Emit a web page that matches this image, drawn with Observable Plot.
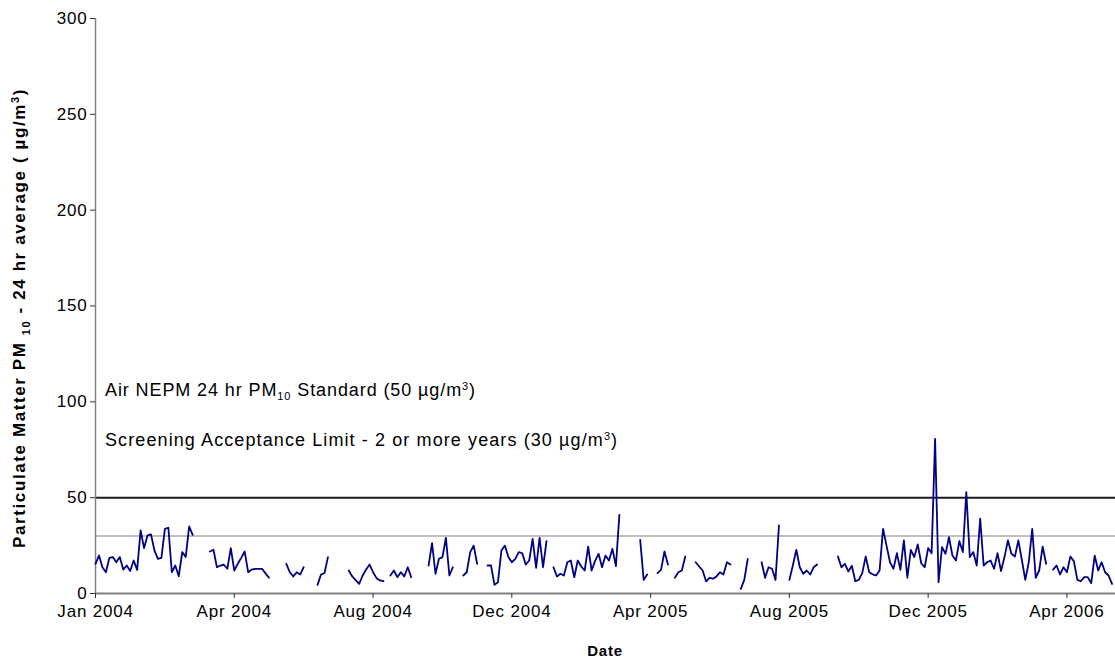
<!DOCTYPE html>
<html><head><meta charset="utf-8">
<script src="https://cdn.jsdelivr.net/npm/d3@7"></script>
<script src="https://cdn.jsdelivr.net/npm/@observablehq/plot@0.6"></script>
<style>body{margin:0;background:#fff;} svg{display:block;}</style>
</head><body><div id="chart"></div>
<script>
// ---- data ----
const seriesStart = "2004-01-01";   // first sample
const samplingDays = 3;             // one sample every 3 days (null = no sample)
const pm10 = [
  15.5,19.8,13.7,11.1,18.6,19,16.3,19,12.5,14.6,11.7,17.2,12.3,32.9,23.7,30.3,30.8,22.4,18.1,18.6,33.7,34.3,11.1,14.6,9,21.6,19,35,30.6,
  null,null,null,null,
  21.9,22.8,13.7,14.6,15,12.9,23.7,12,15.5,18.6,21.9,11.1,12.5,12.9,12.9,12.9,10.5,8.2,
  null,null,null,null,
  15.5,11.1,8.9,11.1,9.9,13.7,
  null,null,null,
  4.5,9.9,10.6,19,
  null,null,null,null,null,
  12,8.9,7,5,9.4,12.5,15.1,11.1,8,6.8,6.4,
  null,
  9.4,12,8.5,11.1,8.9,13.7,8.5,
  null,null,null,null,
  14.6,26.3,10.3,18.1,19,29,9.4,13.7,
  null,null,
  9.4,11.1,21.6,25,15.5,
  null,null,
  14.6,14.6,4.5,5.9,22.4,25,19,16.3,18.1,21.6,21,15.1,17.2,28.5,13.4,29,13.7,27.3,
  null,
  13.7,8.9,10.3,9.4,16.3,17.2,8.5,17.2,14.1,12,24.5,12,17,20.7,13.7,19.8,17.2,23.3,14.3,41,
  null,null,null,null,null,
  28,7.1,9.9,
  null,null,
  10.6,12.3,21.9,15.1,
  null,
  8.2,11.1,12,19.3,
  null,null,
  16.3,14.1,12,6.3,8.2,7.7,8.9,11.1,9.9,16.3,15.1,
  null,null,
  2.4,7.1,18.1,
  null,null,null,
  16.3,8.2,13.7,12.9,7.1,35.5,
  null,null,
  7.1,14.6,22.8,13.7,10.3,12,9.9,13.7,15.1,
  null,null,null,null,null,
  19.3,13.7,15.5,11.5,14.5,6.4,7.1,10.6,19.3,11.1,10,9.4,12,33.7,25,16.3,12.9,21,12.3,27.7,8.2,22.8,19,25.6,15.8,13.7,23.7,21,80.7,5.9,
  24.2,20.7,29.4,19.8,17.2,27.3,21.6,52.9,19,21.6,14.6,39,14.6,16.3,17.2,12.9,21,11.7,19,27.7,20.7,19.3,27.7,17.6,7.1,16.3,33.7,8.2,12,24.5,15.5,
  null,
  12.5,14.6,9.9,13.7,11.1,19.3,16.9,7.1,6.4,8.5,8.5,5.4,19.8,12,16.3,11.1,9.4,5
];
const xTickDates = ["2004-01-01","2004-04-30","2004-08-28","2004-12-26","2005-04-25","2005-08-23","2005-12-21","2006-04-20"];
const xDomain = ["2004-01-01","2006-06-01"];
const yTicks = [0,50,100,150,200,250,300];
const nepmStandard = 50;
const screeningLimit = 30;
const annotationY = [106, 80];   // value level where each annotation label sits

// ---- build ----
const t0 = new Date(seriesStart + "T00:00:00Z").getTime();
const data = pm10.map((v, i) => ({date: new Date(t0 + i * samplingDays * 864e5), value: v}));
const ticks = xTickDates.map(d => new Date(d + "T00:00:00Z"));
const font = "'Liberation Sans', Arial, sans-serif";

const chart = Plot.plot({
  width: 1115, height: 666,
  marginLeft: 95, marginRight: 0, marginTop: 18, marginBottom: 73,
  style: {fontFamily: font, fontSize: "17px", color: "#000", background: "#fff", letterSpacing: "0.8px"},
  x: {type: "utc", domain: xDomain.map(d => new Date(d + "T00:00:00Z"))},
  y: {domain: [0, 300]},
  marks: [
    Plot.ruleY([screeningLimit], {stroke: "#c0c0c0", strokeWidth: 2}),
    Plot.ruleY([nepmStandard], {stroke: "#1a1a1a", strokeWidth: 2}),
    Plot.ruleY([0], {stroke: "#808080", strokeWidth: 2}),
    Plot.ruleX([new Date(xDomain[0] + "T00:00:00Z")], {stroke: "#808080", strokeWidth: 1.5}),
    Plot.axisY({ticks: yTicks, tickSize: 5, tickPadding: 3, fontSize: 17, label: null, stroke: "#333"}),
    Plot.axisX({ticks: ticks, tickFormat: d3.utcFormat("%b %Y"), tickSize: 5, tickPadding: 6, fontSize: 17, label: null, stroke: "#333"}),
    Plot.lineY(data, {x: "date", y: "value", stroke: "#000080", strokeWidth: 1.8})
  ]
});
document.getElementById("chart").appendChild(chart);

const svg = d3.select(chart);
const ys = chart.scale("y");
const xs = chart.scale("x");
const left = xs.apply(new Date(xDomain[0] + "T00:00:00Z"));
const right = xs.apply(new Date(xDomain[1] + "T00:00:00Z"));

function richText(sel, parts) {
  parts.forEach(p => {
    const t = sel.append("tspan").text(p.t);
    if (p.dy) t.attr("dy", p.dy);
    if (p.size) t.attr("font-size", p.size);
  });
}
// annotations
const a1 = svg.append("text").attr("x", left + 10).attr("y", ys.apply(annotationY[0]))
  .attr("dy", "0.35em").attr("text-anchor", "start").attr("font-family", font).attr("font-size", 18)
  .attr("letter-spacing", "0.9px");
richText(a1, [{t: "Air NEPM 24 hr PM"}, {t: "10", dy: 4, size: 11}, {t: " Standard (50 µg/m", dy: -4}, {t: "3", dy: -6, size: 11}, {t: ")", dy: 6}]);
const a2 = svg.append("text").attr("x", left + 10).attr("y", ys.apply(annotationY[1]))
  .attr("dy", "0.35em").attr("text-anchor", "start").attr("font-family", font).attr("font-size", 18)
  .attr("letter-spacing", "1.1px");
richText(a2, [{t: "Screening Acceptance Limit - 2 or more years (30 µg/m"}, {t: "3", dy: -6, size: 11}, {t: ")", dy: 6}]);

// y-axis title
const yt = svg.append("text")
  .attr("transform", `translate(25,318) rotate(-90)`)
  .attr("text-anchor", "middle").attr("font-family", font).attr("font-size", 17)
  .attr("font-weight", "bold").attr("letter-spacing", "1.6px");
richText(yt, [{t: "Particulate Matter PM "}, {t: "10", dy: 5, size: 11}, {t: " - 24 hr average ( µg/m", dy: -5}, {t: "3", dy: -6, size: 11}, {t: ")", dy: 6}]);

// x-axis title
svg.append("text").attr("x", (left + right) / 2).attr("y", 656)
  .attr("text-anchor", "middle").attr("font-family", font).attr("font-size", 15).attr("font-weight", "bold")
  .text("Date");
</script>
</body></html>
